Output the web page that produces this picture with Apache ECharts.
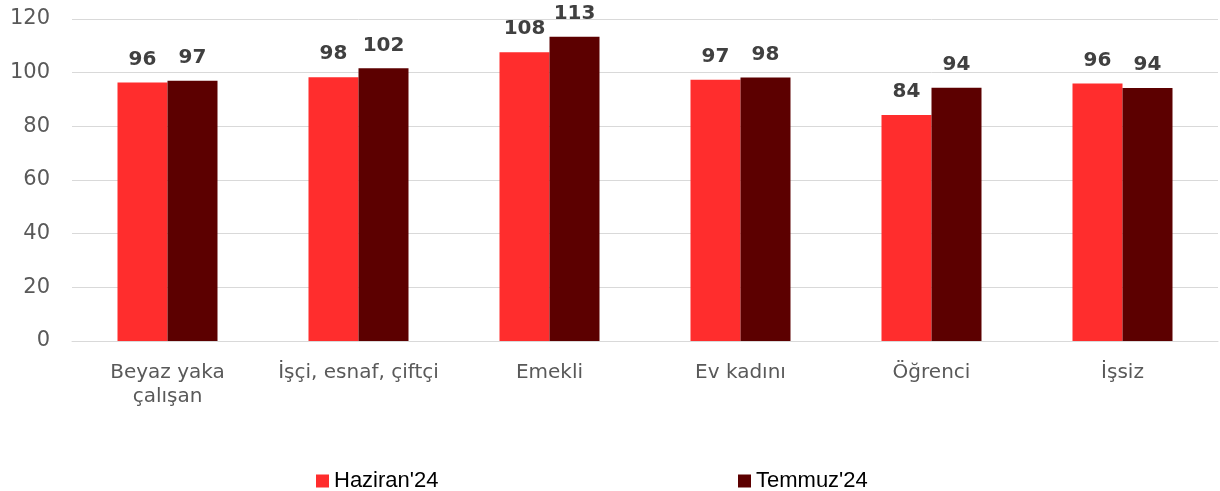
<!DOCTYPE html>
<html><head><meta charset="utf-8">
<script src="https://cdn.jsdelivr.net/npm/echarts@6/dist/echarts.min.js"></script>
<style>html,body{margin:0;padding:0;background:#fff}#c{width:1220px;height:491px}</style>
</head><body><div id="c"></div>
<script>
const categories = ['Beyaz yaka\nçalışan', 'İşçi, esnaf, çiftçi', 'Emekli', 'Ev kadını', 'Öğrenci', 'İşsiz'];
const seriesNames = ["Haziran'24", "Temmuz'24"];
const haziran = [96.3, 98.3, 107.6, 97.4, 84.2, 96.0];
const temmuz = [97.0, 101.6, 113.4, 98.2, 94.4, 94.3];
const haziranLabels = [96, 98, 108, 97, 84, 96];
const temmuzLabels = [97, 102, 113, 98, 94, 94];
const yTicks = [0, 20, 40, 60, 80, 100, 120];

const chart = echarts.init(document.getElementById('c'), null, {renderer: 'canvas'});
const lbl = (arr) => ({
  show: true, position: 'top', distance: 13,
  fontFamily: 'DejaVu Sans', fontWeight: 'bold', fontSize: 20, color: '#404040',
  formatter: p => String(arr[p.dataIndex])
});
const legendText = {fontFamily: 'Liberation Sans', fontSize: 22, color: '#000'};
chart.setOption({
  animation: false,
  grid: {left: 72, right: 2, top: 19, bottom: 150},
  legend: [
    {data: [seriesNames[0]], left: 311, top: 465, itemWidth: 13, itemHeight: 13, itemGap: 5, icon: 'rect', textStyle: legendText},
    {data: [seriesNames[1]], left: 733, top: 465, itemWidth: 13, itemHeight: 13, itemGap: 5, icon: 'rect', textStyle: legendText}
  ],
  xAxis: {
    type: 'category', data: categories,
    axisLine: {lineStyle: {color: '#d9d9d9', width: 1}},
    axisTick: {show: false},
    axisLabel: {fontFamily: 'DejaVu Sans', fontSize: 20, color: '#595959', margin: 20, lineHeight: 24, interval: 0}
  },
  yAxis: {
    type: 'value', min: 0, max: 120, interval: 20,
    axisLine: {show: false}, axisTick: {show: false},
    axisLabel: {fontFamily: 'DejaVu Sans', fontSize: 21, color: '#595959', margin: 22,
      formatter: v => yTicks.includes(v) ? String(v) : ''},
    splitLine: {lineStyle: {color: '#d9d9d9', width: 1}}
  },
  series: [
    {name: seriesNames[0], type: 'bar', data: haziran, barWidth: 50, barGap: '0%',
     itemStyle: {color: '#FF2D2D'}, label: lbl(haziranLabels)},
    {name: seriesNames[1], type: 'bar', data: temmuz, barWidth: 50, barGap: '0%',
     itemStyle: {color: '#5C0000'}, label: lbl(temmuzLabels)}
  ]
});
</script></body></html>
